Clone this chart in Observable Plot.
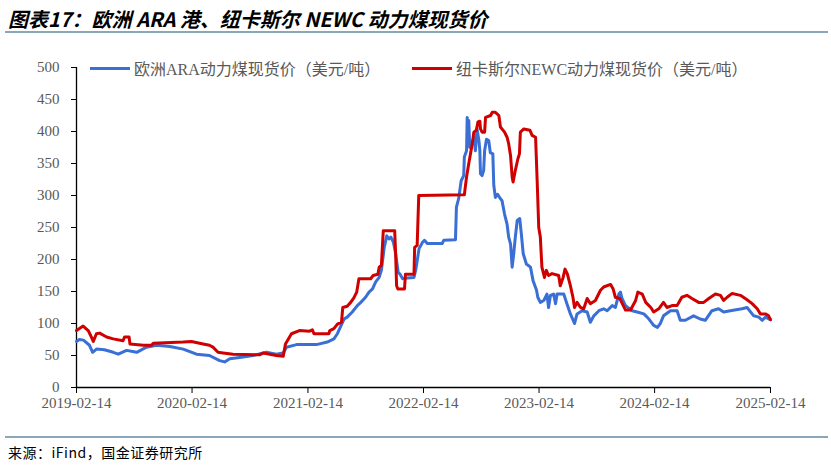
<!DOCTYPE html>
<html><head><meta charset="utf-8">
<script src="https://cdn.jsdelivr.net/npm/d3@7"></script>
<script src="https://cdn.jsdelivr.net/npm/@observablehq/plot@0.6"></script>
<style>
body{margin:0;background:#fff;width:831px;height:466px;position:relative;overflow:hidden;}
#title{position:absolute;left:8px;top:4px;font:italic 700 20px "Liberation Sans Narrow","Noto Sans CJK SC";white-space:nowrap;color:#000;}
.rule{position:absolute;left:5px;width:823px;height:2px;background:#8aa6ba;}
#chart{position:absolute;left:0;top:40px;}
.leg{position:absolute;top:56px;font:16px "Liberation Serif","Noto Sans CJK SC";color:#595959;display:flex;align-items:center;white-space:nowrap;}
.leg i{display:inline-block;width:40px;height:3px;margin-right:4px;}
#source{position:absolute;left:8px;top:442px;font:14px "Noto Sans CJK SC";letter-spacing:0.5px;color:#000;}
</style></head><body>
<div id="title">图表17：欧洲 ARA 港、纽卡斯尔 NEWC 动力煤现货价</div>
<div class="rule" style="top:31px"></div>
<div id="chart"></div>
<div class="leg" style="left:90px"><i style="background:#3a6fd6"></i><span id="l1"></span></div>
<div class="leg" style="left:412px"><i style="background:#d00000"></i><span id="l2"></span></div>
<div class="rule" style="top:436px"></div>
<div id="source">来源：iFind，国金证券研究所</div>
<script>
const seriesNames = ["欧洲ARA动力煤现货价（美元/吨）", "纽卡斯尔NEWC动力煤现货价（美元/吨）"];
const xTicks = ["2019-02-14","2020-02-14","2021-02-14","2022-02-14","2023-02-14","2024-02-14","2025-02-14"];
const yTicks = [0,50,100,150,200,250,300,350,400,450,500];

const araDates = ["2019-02-14","2019-02-23","2019-03-08","2019-03-27","2019-04-06","2019-04-18","2019-05-13","2019-06-10","2019-06-26","2019-07-22","2019-08-23","2019-09-23","2019-10-25","2019-12-06","2020-01-17",
"2020-02-28","2020-04-09","2020-05-11","2020-05-27","2020-06-12","2020-07-13","2020-08-25","2020-10-06","2020-11-06","2020-11-28","2020-12-08","2021-01-09",
"2021-03-13","2021-04-16","2021-05-07","2021-05-18","2021-06-08","2021-06-18","2021-07-04","2021-07-20","2021-07-31","2021-08-15","2021-08-26","2021-09-06","2021-09-16","2021-09-27","2021-10-04","2021-10-13","2021-10-21","2021-10-28","2021-11-03","2021-11-11","2021-11-18","2021-11-26","2021-12-02","2021-12-10","2021-12-25","2022-01-15","2022-01-21","2022-01-31","2022-02-11",
"2022-02-17","2022-02-26","2022-04-14","2022-04-19","2022-05-26","2022-05-29","2022-06-05","2022-06-13","2022-06-21","2022-06-23","2022-06-30","2022-07-02","2022-07-05","2022-07-07","2022-07-10","2022-07-18","2022-07-23","2022-07-28","2022-08-02","2022-08-08","2022-08-11","2022-08-13","2022-08-18","2022-08-23","2022-08-26","2022-09-01","2022-09-08","2022-09-13","2022-09-21","2022-09-24","2022-09-29","2022-10-06","2022-10-15","2022-10-20","2022-10-28","2022-11-05","2022-11-10","2022-11-16","2022-11-21","2022-11-26","2022-12-01","2022-12-07","2022-12-15","2022-12-20","2022-12-26","2023-01-05","2023-01-18","2023-01-26","2023-02-06","2023-02-10",
"2023-02-18","2023-03-01","2023-03-11","2023-03-16","2023-03-22","2023-04-01","2023-04-07","2023-04-12","2023-05-03","2023-05-13","2023-05-24","2023-06-06","2023-06-14","2023-06-30","2023-07-16","2023-07-26","2023-08-06","2023-08-22","2023-09-06","2023-09-17","2023-10-03","2023-10-13","2023-10-24","2023-10-29","2023-11-03","2023-11-14","2023-12-05","2023-12-21","2024-01-11","2024-01-27",
"2024-02-11","2024-02-23","2024-03-03","2024-03-13","2024-04-04","2024-04-25","2024-05-05","2024-05-21","2024-06-16","2024-07-07","2024-07-23","2024-08-13","2024-09-03","2024-09-19","2024-10-10","2024-11-16","2024-12-02","2024-12-23","2025-01-08","2025-01-19","2025-01-29","2025-02-09","2025-02-14"];
const araValues = [72,75,74,66,55,60,59,55,52,58,55,63,66,64,60,
52,50,42,40,45,47,50,55,52,54,63,67,
67,71,76,84,107,110,118,128,133,141,149,154,165,172,183,219,237,232,235,227,209,180,177,170,171,172,185,217,227,
230,225,225,230,231,282,295,323,331,360,370,422,381,417,375,381,391,370,404,386,370,334,331,339,370,388,386,367,365,316,297,302,295,292,271,255,235,224,188,209,235,261,264,240,209,193,188,167,152,141,
133,136,146,125,144,146,131,146,146,131,115,100,115,120,118,102,112,120,123,120,128,125,146,149,139,128,120,118,115,107,
97,94,100,112,120,120,105,105,112,107,105,120,123,118,120,123,125,112,110,105,110,107,106];

const newcDates = ["2019-02-14","2019-03-07","2019-03-23","2019-04-01","2019-04-08","2019-04-18","2019-04-28","2019-05-20","2019-06-10","2019-07-11","2019-07-16","2019-07-30","2019-08-02","2019-09-13","2019-10-09","2019-10-14","2020-01-17","2020-02-12",
"2020-03-20","2020-04-09","2020-04-20","2020-05-06","2020-05-22","2020-06-22","2020-09-14","2020-09-26","2020-11-06","2020-11-28","2020-12-05","2020-12-24","2021-01-18",
"2021-02-19","2021-02-28","2021-03-05","2021-04-21","2021-04-24","2021-05-07","2021-05-18","2021-05-31","2021-06-04","2021-06-18","2021-06-29","2021-07-09","2021-07-18","2021-07-25","2021-08-31","2021-09-08","2021-09-23","2021-09-27","2021-10-04","2021-10-10","2021-11-15","2021-11-18","2021-11-21","2021-11-25","2021-12-16","2021-12-19","2022-01-15","2022-01-17","2022-01-25","2022-01-30",
"2022-06-23","2022-06-30","2022-07-07","2022-07-18","2022-07-23","2022-07-31","2022-08-05","2022-08-11","2022-08-13","2022-08-18","2022-08-26","2022-08-29","2022-09-14","2022-09-19","2022-09-29","2022-10-10","2022-10-15","2022-10-28","2022-11-05","2022-11-10","2022-11-16","2022-11-21","2022-11-24","2022-12-01","2022-12-09","2022-12-14","2022-12-17","2022-12-28","2023-01-16","2023-01-23","2023-02-03","2023-02-08",
"2023-02-13","2023-02-18","2023-02-23","2023-03-03","2023-03-09","2023-03-16","2023-03-27","2023-04-17","2023-04-22","2023-05-01","2023-05-07","2023-05-14","2023-05-24","2023-06-01","2023-06-06","2023-06-14","2023-06-25","2023-07-05","2023-07-16","2023-07-26","2023-08-11","2023-08-27","2023-09-06","2023-09-28","2023-10-06","2023-10-13","2023-10-27","2023-11-07","2023-11-14","2023-11-30","2023-12-16","2023-12-23","2024-01-06","2024-01-17","2024-02-02",
"2024-02-11","2024-02-27","2024-03-13","2024-03-24","2024-04-09","2024-04-25","2024-05-10","2024-05-26","2024-06-11","2024-07-02","2024-07-18","2024-08-03","2024-08-24","2024-09-09","2024-09-19","2024-09-30","2024-10-16","2024-11-11","2024-12-02","2024-12-18","2025-01-03","2025-01-13","2025-01-29","2025-02-08","2025-02-14"];
const newcValues = [89,96,89,80,72,84,85,79,76,73,79,79,68,66,66,69,71,72,
68,66,63,55,54,52,51,54,50,49,68,84,89,
88,90,84,84,89,92,99,102,125,127,133,140,149,170,170,175,177,188,191,245,245,209,159,154,154,177,177,219,222,300,
301,329,350,381,399,402,415,416,404,399,399,422,425,430,430,425,407,399,391,381,362,329,321,339,357,365,399,404,402,394,391,323,
250,235,188,172,183,175,178,175,159,172,185,178,159,141,125,133,125,123,139,131,136,152,157,161,154,141,139,128,121,121,136,149,146,133,125,
118,123,133,125,128,128,141,144,139,133,133,139,146,144,136,141,147,144,137,131,123,115,115,112,106];

document.getElementById("l1").textContent = seriesNames[0];
document.getElementById("l2").textContent = seriesNames[1];

const parse = d3.utcParse("%Y-%m-%d");
const ara = araDates.map((d, i) => ({date: parse(d), value: araValues[i]}));
const newc = newcDates.map((d, i) => ({date: parse(d), value: newcValues[i]}));
const xt = xTicks.map(parse);

const chart = Plot.plot({
  width: 831, height: 385,
  marginLeft: 76, marginRight: 61, marginTop: 27, marginBottom: 38,
  x: {type: "utc", domain: [xt[0], xt[xt.length - 1]]},
  y: {domain: [0, 500]},
  style: {fontFamily: "Liberation Serif", fontSize: "15px", color: "#595959", background: "transparent", overflow: "visible"},
  marks: [
    Plot.axisY({ticks: yTicks, tickSize: 5, tickPadding: 12, stroke: "#000", fill: "#595959", label: null}),
    Plot.axisX({ticks: xt, tickSize: 6, tickPadding: 4, stroke: "#000", fill: "#595959", tickFormat: d3.utcFormat("%Y-%m-%d"), label: null}),
    Plot.ruleX([xt[0]], {y1: 0, y2: 500, stroke: "#000", strokeWidth: 1.3}),
    Plot.ruleY([0], {stroke: "#000", strokeWidth: 1.3}),
    Plot.line(ara, {x: "date", y: "value", stroke: "#3a6fd6", strokeWidth: 3, strokeLinejoin: "round"}),
    Plot.line(newc, {x: "date", y: "value", stroke: "#d00000", strokeWidth: 3, strokeLinejoin: "round"})
  ]
});
document.getElementById("chart").append(chart);
</script>
</body></html>
